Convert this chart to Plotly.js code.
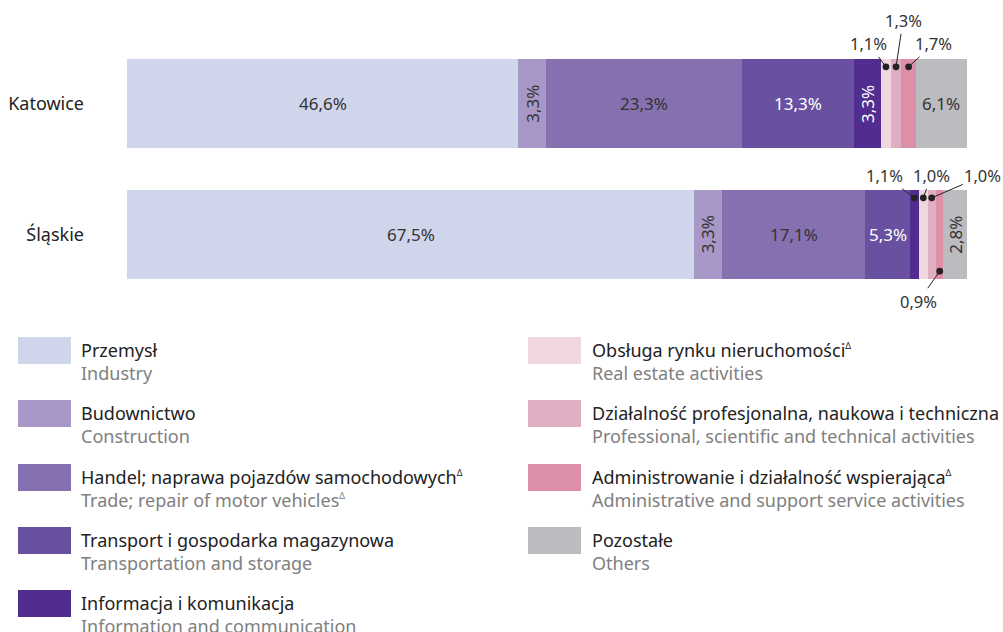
<!DOCTYPE html>
<html>
<head>
<meta charset="utf-8">
<script src="https://cdn.plot.ly/plotly-3.0.1.min.js"></script>
<style>html,body{margin:0;padding:0;background:#fff;}#chart{width:1003px;height:632px;}</style>
</head>
<body>
<div id="chart"></div>
<script>
// ---- data ----
const categories = ['Katowice', 'Śląskie'];
const SUP = '<span style="font-size:9px">Δ</span>';
const sectorsPL = [
  'Przemysł',
  'Budownictwo',
  'Handel; naprawa pojazdów samochodowych' + '<sup>' + SUP + '</sup>',
  'Transport i gospodarka magazynowa',
  'Informacja i komunikacja',
  'Obsługa rynku nieruchomości' + '<sup>' + SUP + '</sup>',
  'Działalność profesjonalna, naukowa i techniczna',
  'Administrowanie i działalność wspierająca' + '<sup>' + SUP + '</sup>',
  'Pozostałe'
];
const sectorsEN = [
  'Industry',
  'Construction',
  'Trade; repair of motor vehicles' + '<sup>' + SUP + '</sup>',
  'Transportation and storage',
  'Information and communication',
  'Real estate activities',
  'Professional, scientific and technical activities',
  'Administrative and support service activities',
  'Others'
];
const katowice = [46.6, 3.3, 23.3, 13.3, 3.3, 1.1, 1.3, 1.7, 6.1];
const slaskie  = [67.5, 3.3, 17.1, 5.3, 1.1, 1.0, 1.0, 0.9, 2.8];

// ---- styling ----
const colors = ['#cfd5ea', '#a898c8', '#8670b0', '#6a50a0', '#512d90', '#f0d6df', '#e0aec2', '#dd8fa8', '#bcbcc0'];
const labelColors = ['#333', '#333', '#333', '#fff', '#fff', '#333', '#333', '#333', '#333'];
// label modes: h = horizontal inside, v = rotated inside, o = outside with leader
const modes = [
  ['h', 'v', 'h', 'h', 'v', 'o', 'o', 'o', 'h'],
  ['h', 'v', 'h', 'h', 'o', 'o', 'o', 'o', 'v']
];
// outside label offsets [ax, ay, side]
const outOffsets = [
  {5: [-17, -23, -1], 6: [7, -46, -1], 7: [25, -23, -1]},
  {4: [-30, -22, -1], 5: [8, -22, -1], 6: [51, -22, -1], 7: [-21, 30, 1]}
];

const FONT = 'Noto Sans, Open Sans, sans-serif';
const W = 1003, H = 632;
const PL = 127, PR = 967, PT = 38, PB = 300;
const px = x => (x - PL) / (PR - PL);
const py = y => (PB - y) / (PB - PT);
const fmt = v => v.toFixed(1).replace('.', ',') + '%';

const series = [katowice, slaskie];
const traces = sectorsEN.map((name, i) => ({
  type: 'bar',
  orientation: 'h',
  name: name,
  y: categories,
  x: series.map(s => s[i]),
  marker: {color: colors[i], line: {width: 0}},
  width: 0.68,
  hoverinfo: 'skip',
  showlegend: false
}));

const annotations = [];
series.forEach((vals, ci) => {
  let cum = 0;
  vals.forEach((v, i) => {
    const mid = cum + v / 2;
    cum += v;
    const m = modes[ci][i];
    if (m === 'h' || m === 'v') {
      annotations.push({
        x: mid, y: categories[ci], xref: 'x', yref: 'y',
        text: fmt(v), showarrow: false,
        textangle: m === 'v' ? -90 : 0,
        font: {family: FONT, size: 17, color: labelColors[i]}
      });
    } else {
      const o = outOffsets[ci][i];
      annotations.push({
        x: mid, y: ci + o[2] * 0.28, xref: 'x', yref: 'y',
        text: fmt(v), showarrow: true,
        ax: o[0], ay: o[1],
        arrowhead: 6, arrowsize: 1.7, arrowwidth: 1, arrowcolor: '#222',
        standoff: 0,
        font: {family: FONT, size: 16.5, color: '#333'}
      });
    }
  });
});

// legend (custom, two columns)
const shapes = [];
const rowTops = [337, 400, 464, 527, 590];
sectorsPL.forEach((pl, i) => {
  const col = i < 5 ? 0 : 1;
  const row = col === 0 ? i : i - 5;
  const sx = col === 0 ? 18 : 528;
  const tx = col === 0 ? 79 : 590;
  const top = rowTops[row];
  shapes.push({
    type: 'rect', xref: 'paper', yref: 'paper',
    x0: px(sx), x1: px(sx + 53), y0: py(top), y1: py(top + 27),
    fillcolor: colors[i], line: {width: 0}
  });
  annotations.push({
    xref: 'paper', yref: 'paper', x: px(tx), y: py(top + 13),
    xanchor: 'left', yanchor: 'middle', showarrow: false,
    text: pl, font: {family: FONT, size: 18, color: '#222'}
  });
  annotations.push({
    xref: 'paper', yref: 'paper', x: px(tx), y: py(top + 36),
    xanchor: 'left', yanchor: 'middle', showarrow: false,
    text: sectorsEN[i], font: {family: FONT, size: 18, color: '#808080'}
  });
});

const layout = {
  width: W, height: H,
  margin: {l: PL, r: W - PR, t: PT, b: H - PB},
  barmode: 'stack',
  bargap: 0,
  paper_bgcolor: '#fff', plot_bgcolor: '#fff',
  xaxis: {range: [0, 100], visible: false, fixedrange: true},
  yaxis: {
    type: 'category', autorange: 'reversed',
    showgrid: false, zeroline: false, showline: false, ticks: '',
    ticklabelstandoff: 42,
    tickfont: {family: FONT, size: 18, color: '#222'}
  },
  font: {family: FONT},
  annotations: annotations,
  shapes: shapes,
  showlegend: false
};

Plotly.newPlot('chart', traces, layout, {displayModeBar: false, staticPlot: true});
</script>
</body>
</html>
